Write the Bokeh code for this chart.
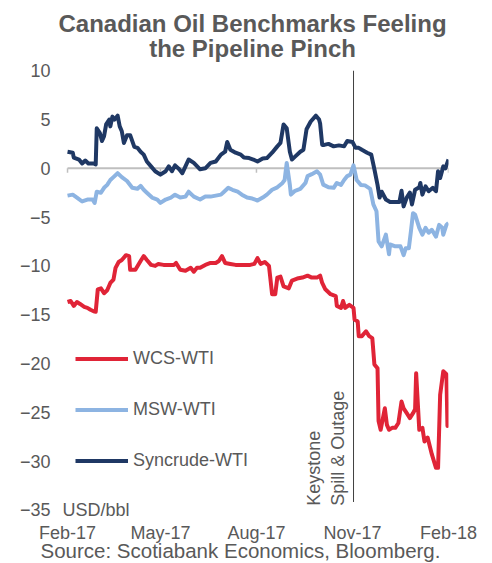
import pandas as pd
from bokeh.plotting import figure
from bokeh.models import Range1d, FixedTicker, Label, Legend, LegendItem, Title
from bokeh.embed import file_html
from bokeh.resources import INLINE

# ---------------- data ----------------
TITLE_LINES = ["Canadian Oil Benchmarks Feeling", "the Pipeline Pinch"]
SERIES_NAMES = ["WCS-WTI", "MSW-WTI", "Syncrude-WTI"]
TICK_DATES = ["2017-02-01", "2017-05-01", "2017-08-01", "2017-11-01", "2018-02-01"]
TICK_LABELS = ["Feb-17", "May-17", "Aug-17", "Nov-17", "Feb-18"]
Y_TICKS = [10, 5, 0, -5, -10, -15, -20, -25, -30, -35]
X_START, X_END = "2017-02-01", "2018-02-01"
Y_MIN, Y_MAX = -35, 10
EVENT_DATE = "2017-11-02"
EVENT_TEXT = ["Keystone", "Spill & Outage"]
UNIT = "USD/bbl"
SOURCE = "Source: Scotiabank Economics, Bloomberg."

syn_dates = ["2017-02-01", "2017-02-06", "2017-02-07", "2017-02-12", "2017-02-15", "2017-02-18", "2017-02-21",
             "2017-02-26", "2017-02-28", "2017-03-01", "2017-03-04", "2017-03-06", "2017-03-08", "2017-03-10",
             "2017-03-13", "2017-03-14", "2017-03-16", "2017-03-18", "2017-03-21", "2017-03-23", "2017-03-25",
             "2017-03-27", "2017-03-30", "2017-04-02", "2017-04-06", "2017-04-09", "2017-04-12", "2017-04-15",
             "2017-04-18", "2017-04-22", "2017-04-26", "2017-05-01", "2017-05-06", "2017-05-09", "2017-05-12",
             "2017-05-15", "2017-05-19", "2017-05-22", "2017-05-25", "2017-05-28", "2017-06-02", "2017-06-08",
             "2017-06-13", "2017-06-18", "2017-06-23", "2017-06-28", "2017-07-02", "2017-07-04", "2017-07-07",
             "2017-07-12", "2017-07-17", "2017-07-20", "2017-07-25", "2017-07-29", "2017-08-02", "2017-08-07",
             "2017-08-11", "2017-08-16", "2017-08-21", "2017-08-24", "2017-08-27", "2017-08-30", "2017-09-02",
             "2017-09-04", "2017-09-07", "2017-09-12", "2017-09-15", "2017-09-18", "2017-09-22", "2017-09-27",
             "2017-09-30", "2017-10-01", "2017-10-03", "2017-10-05", "2017-10-09", "2017-10-14", "2017-10-19",
             "2017-10-24", "2017-10-27", "2017-11-01", "2017-11-04", "2017-11-07", "2017-11-10", "2017-11-15",
             "2017-11-19", "2017-11-22", "2017-11-25", "2017-11-27", "2017-11-29", "2017-12-03", "2017-12-07",
             "2017-12-12", "2017-12-16", "2017-12-18", "2017-12-20", "2017-12-23", "2017-12-26", "2017-12-28",
             "2017-12-31", "2018-01-04", "2018-01-05", "2018-01-07", "2018-01-10", "2018-01-13", "2018-01-17",
             "2018-01-20", "2018-01-22", "2018-01-24", "2018-01-27", "2018-01-29", "2018-02-01"]
syn_values = [1.7, 1.6, 1.1, 0.9, 0.5, 0.8, 0.5, 0.5, 0.4, 4.1, 3.6, 2.8, 3.3, 4.5, 5.0, 4.3, 5.3, 5.0, 5.4, 4.3,
              3.8, 2.6, 3.4, 3.4, 2.2, 2.1, 1.7, 1.4, 0.7, 0.2, -0.3, -0.65, -0.3, 0.2, -0.3, 0.3, -0.1, -0.5, 0.2,
              0.9, 0.55, -0.1, 0.0, 0.55, 0.7, 1.4, 1.7, 2.7, 1.9, 1.6, 1.4, 1.1, 1.05, 0.9, 0.7, 1.0, 1.05, 1.6,
              2.25, 2.6, 4.5, 4.1, 1.7, 0.9, 1.2, 1.7, 1.9, 4.0, 4.8, 5.4, 5.0, 4.6, 2.4, 2.4, 2.5, 2.25, 2.35,
              2.25, 2.8, 2.7, 2.1, 2.1, 1.9, 1.6, 1.4, -0.1, -1.7, -3.0, -2.4, -3.2, -3.45, -3.45, -3.45, -2.3,
              -3.9, -3.0, -2.5, -3.7, -2.2, -1.95, -1.5, -2.7, -1.85, -2.35, -2.0, -2.35, -0.3, -1.0, 0.2, 0.0, 0.9]

msw_dates = ["2017-02-01", "2017-02-06", "2017-02-10", "2017-02-15", "2017-02-20", "2017-02-25", "2017-02-27",
             "2017-03-01", "2017-03-05", "2017-03-08", "2017-03-11", "2017-03-14", "2017-03-17", "2017-03-21",
             "2017-03-25", "2017-03-30", "2017-04-04", "2017-04-09", "2017-04-12", "2017-04-15", "2017-04-18",
             "2017-04-23", "2017-04-28", "2017-05-01", "2017-05-06", "2017-05-11", "2017-05-15", "2017-05-20",
             "2017-05-25", "2017-05-28", "2017-06-02", "2017-06-08", "2017-06-13", "2017-06-18", "2017-06-23",
             "2017-06-28", "2017-07-01", "2017-07-05", "2017-07-09", "2017-07-14", "2017-07-18", "2017-07-23",
             "2017-07-28", "2017-08-02", "2017-08-07", "2017-08-11", "2017-08-16", "2017-08-21", "2017-08-26",
             "2017-08-28", "2017-08-30", "2017-09-02", "2017-09-03", "2017-09-07", "2017-09-12", "2017-09-17",
             "2017-09-19", "2017-09-23", "2017-09-28", "2017-10-01", "2017-10-04", "2017-10-09", "2017-10-14",
             "2017-10-17", "2017-10-21", "2017-10-24", "2017-10-27", "2017-10-30", "2017-11-02", "2017-11-05",
             "2017-11-09", "2017-11-13", "2017-11-18", "2017-11-21", "2017-11-24", "2017-11-26", "2017-11-29",
             "2017-12-03", "2017-12-06", "2017-12-07", "2017-12-12", "2017-12-17", "2017-12-20", "2017-12-22",
             "2017-12-25", "2017-12-27", "2017-12-29", "2017-12-31", "2018-01-04", "2018-01-07", "2018-01-10",
             "2018-01-13", "2018-01-16", "2018-01-20", "2018-01-23", "2018-01-26", "2018-01-27", "2018-01-30",
             "2018-02-01"]
msw_values = [-2.8, -2.7, -3.0, -3.4, -3.2, -3.2, -3.55, -2.4, -2.5, -2.0, -1.7, -1.2, -0.9, -0.5, -0.9, -1.3,
              -2.0, -2.1, -1.8, -2.2, -2.5, -3.0, -3.2, -3.55, -3.2, -3.0, -2.7, -3.0, -2.9, -2.4, -2.9, -3.2,
              -2.9, -2.9, -2.8, -2.7, -2.4, -2.0, -2.2, -2.4, -2.7, -3.0, -3.1, -3.3, -3.0, -2.7, -2.2, -1.95,
              -1.5, -1.2, 0.55, -1.7, -2.7, -2.3, -2.1, -1.5, -0.8, -0.6, -0.3, -0.65, -1.67, -1.95, -2.0, -1.5,
              -1.7, -1.2, -0.8, -0.65, 0.3, -1.2, -1.7, -1.75, -2.1, -3.7, -4.4, -7.5, -8.0, -6.8, -8.8, -7.8,
              -8.0, -8.0, -8.9, -8.2, -8.2, -6.45, -4.6, -4.75, -6.1, -6.8, -6.1, -6.6, -6.3, -7.0, -5.8, -6.1,
              -6.8, -5.8, -5.6]

wcs_dates = ["2017-02-01", "2017-02-04", "2017-02-07", "2017-02-10", "2017-02-13", "2017-02-17", "2017-02-20",
             "2017-02-23", "2017-02-26", "2017-02-28", "2017-03-02", "2017-03-05", "2017-03-08", "2017-03-11",
             "2017-03-14", "2017-03-17", "2017-03-19", "2017-03-22", "2017-03-25", "2017-03-29", "2017-04-01",
             "2017-04-02", "2017-04-07", "2017-04-12", "2017-04-15", "2017-04-18", "2017-04-22", "2017-04-26",
             "2017-04-29", "2017-05-04", "2017-05-09", "2017-05-14", "2017-05-16", "2017-05-20", "2017-05-25",
             "2017-05-30", "2017-06-02", "2017-06-05", "2017-06-08", "2017-06-13", "2017-06-18", "2017-06-23",
             "2017-06-26", "2017-06-29", "2017-07-02", "2017-07-07", "2017-07-12", "2017-07-17", "2017-07-22",
             "2017-07-26", "2017-07-30", "2017-08-02", "2017-08-05", "2017-08-09", "2017-08-13", "2017-08-16",
             "2017-08-19", "2017-08-21", "2017-08-24", "2017-08-27", "2017-09-01", "2017-09-04", "2017-09-09",
             "2017-09-14", "2017-09-19", "2017-09-23", "2017-09-28", "2017-10-01", "2017-10-03", "2017-10-06",
             "2017-10-11", "2017-10-16", "2017-10-17", "2017-10-21", "2017-10-23", "2017-10-25", "2017-10-29",
             "2017-11-02", "2017-11-03", "2017-11-06", "2017-11-07", "2017-11-10", "2017-11-14", "2017-11-17",
             "2017-11-20", "2017-11-22", "2017-11-25", "2017-11-26", "2017-11-28", "2017-12-02", "2017-12-04",
             "2017-12-06", "2017-12-09", "2017-12-12", "2017-12-15", "2017-12-18", "2017-12-20", "2017-12-23",
             "2017-12-26", "2017-12-29", "2017-12-31", "2018-01-01", "2018-01-04", "2018-01-07", "2018-01-09",
             "2018-01-12", "2018-01-16", "2018-01-20", "2018-01-22", "2018-01-24", "2018-01-27", "2018-01-30",
             "2018-01-31", "2018-02-01"]
wcs_values = [-13.7, -13.6, -14.1, -13.7, -13.9, -14.2, -14.3, -14.5, -14.65, -14.7, -12.4, -12.3, -12.8, -12.5,
              -11.75, -11.4, -10.2, -9.6, -9.4, -8.9, -9.0, -10.4, -10.4, -9.5, -9.0, -9.4, -9.9, -10.0, -9.8,
              -9.9, -9.9, -9.9, -9.7, -10.4, -10.5, -10.2, -10.6, -10.2, -10.2, -9.9, -9.7, -9.7, -9.5, -9.0,
              -9.7, -9.8, -9.9, -9.9, -9.9, -9.9, -9.8, -9.2, -9.8, -9.6, -10.0, -12.9, -12.9, -11.2, -11.1,
              -12.1, -12.3, -11.5, -11.3, -11.2, -11.0, -11.2, -11.2, -11.0, -11.75, -12.4, -12.9, -13.1, -14.1,
              -14.3, -13.6, -14.3, -14.0, -14.3, -15.5, -15.7, -17.2, -17.2, -16.7, -17.2, -17.4, -20.1, -20.5,
              -25.9, -26.8, -24.6, -26.3, -26.8, -26.6, -26.6, -26.1, -23.9, -24.6, -25.1, -25.6, -25.1, -24.7,
              -21.0, -26.8, -26.6, -28.0, -27.6, -29.3, -30.7, -30.7, -23.2, -20.8, -21.1, -26.4, -26.2]

COLORS = ["#E02437", "#8DB4E2", "#1F3864"]
TEXT_COLOR = "#595959"
FONT = "Liberation Sans"

# plotting window: the frame reaches the top of the canvas and a little left of the first date,
# so the title and the unit text can sit inside it
Y_TOP, Y_BOTTOM = 17.2, -36.2
X_PAD_DAYS = 14.4


def ms(d):
    return pd.Timestamp(d).value // 10**6


tick_ms = [ms(d) for d in TICK_DATES]
x0_ms, x1_ms = ms(X_START), ms(X_END)
ev_ms = ms(EVENT_DATE)
left_ms = x0_ms - X_PAD_DAYS * 86400000

p = figure(width=492, height=563, x_axis_type="datetime",
           x_range=Range1d(left_ms, x1_ms), y_range=Range1d(Y_BOTTOM, Y_TOP),
           output_backend="svg", toolbar_location=None,
           min_border_left=52, min_border_right=44, min_border_top=0, min_border_bottom=42)
p.outline_line_color = None
p.grid.visible = False
p.background_fill_color = "white"
p.border_fill_color = "white"

# y axis
p.yaxis.ticker = FixedTicker(ticks=Y_TICKS)
p.yaxis.axis_line_color = None
p.yaxis.major_tick_line_color = None
p.yaxis.minor_tick_line_color = None
p.yaxis.major_tick_out = 0
p.yaxis.minor_tick_out = 0
p.yaxis.major_label_standoff = 2
p.yaxis.major_label_text_font = FONT
p.yaxis.major_label_text_font_size = "18px"
p.yaxis.major_label_text_color = TEXT_COLOR

# x axis (labels only, at the bottom)
p.xaxis.ticker = FixedTicker(ticks=tick_ms)
p.xaxis.major_label_overrides = {t: lab for t, lab in zip(tick_ms, TICK_LABELS)}
p.xaxis.axis_line_color = None
p.xaxis.major_tick_line_color = None
p.xaxis.minor_tick_line_color = None
p.xaxis.major_tick_out = 0
p.xaxis.minor_tick_out = 0
p.xaxis.major_label_standoff = 1
p.xaxis.major_label_text_font = FONT
p.xaxis.major_label_text_font_size = "18px"
p.xaxis.major_label_text_color = TEXT_COLOR

# zero line and its tick marks
p.segment(x0=[x0_ms], x1=[x1_ms], y0=[0], y1=[0], line_color="#BFBFBF", line_width=2)
p.segment(x0=tick_ms, x1=tick_ms, y0=[0] * len(tick_ms), y1=[-0.45] * len(tick_ms),
          line_color="#BFBFBF", line_width=1.5)

# event line
p.segment(x0=[ev_ms], x1=[ev_ms], y0=[Y_MAX], y1=[Y_MIN + 0.8], line_color="#404040", line_width=1)

renderers = []
for dates, vals, col in [(wcs_dates, wcs_values, COLORS[0]),
                         (msw_dates, msw_values, COLORS[1]),
                         (syn_dates, syn_values, COLORS[2])]:
    r = p.line(x=pd.to_datetime(dates), y=vals, line_color=col, line_width=4, line_join="round")
    renderers.append(r)

legend = Legend(items=[LegendItem(label=n, renderers=[r]) for n, r in zip(SERIES_NAMES, renderers)],
                location=(23, 50), orientation="vertical", padding=0, margin=0, spacing=30,
                glyph_width=53, glyph_height=21, label_height=21, label_standoff=5,
                label_text_font=FONT, label_text_font_size="18px", label_text_color=TEXT_COLOR,
                border_line_color=None, background_fill_alpha=0)
p.add_layout(legend)

# title (inside the frame, above the value 10)
for line, yoff in zip(TITLE_LINES, [47, 22]):
    p.add_layout(Label(x=x0_ms, y=Y_MAX, x_offset=185, y_offset=yoff, text=line,
                       text_align="center", text_baseline="alphabetic",
                       text_font=FONT, text_font_size="24px", text_font_style="bold",
                       text_color=TEXT_COLOR))

# units
p.add_layout(Label(x=x0_ms, y=Y_MIN, x_offset=-5, text=UNIT, text_align="left",
                   text_baseline="middle", text_font=FONT, text_font_size="18px", text_color=TEXT_COLOR))

# source, below the date labels
p.add_layout(Title(text=SOURCE, align="left", offset=-12, vertical_align="top", standoff=-14,
                   text_font=FONT, text_font_size="20.5px", text_font_style="normal",
                   text_color=TEXT_COLOR), "below")

# event annotation (rotated)
for txt, xoff in zip(EVENT_TEXT, [-40, -16]):
    p.add_layout(Label(x=ev_ms, y=Y_MIN, x_offset=xoff, y_offset=4, text=txt, angle=90, angle_units="deg",
                       text_align="left", text_baseline="alphabetic", text_font=FONT,
                       text_font_size="18px", text_color=TEXT_COLOR))

open("out.html", "w").write(file_html(p, INLINE))
